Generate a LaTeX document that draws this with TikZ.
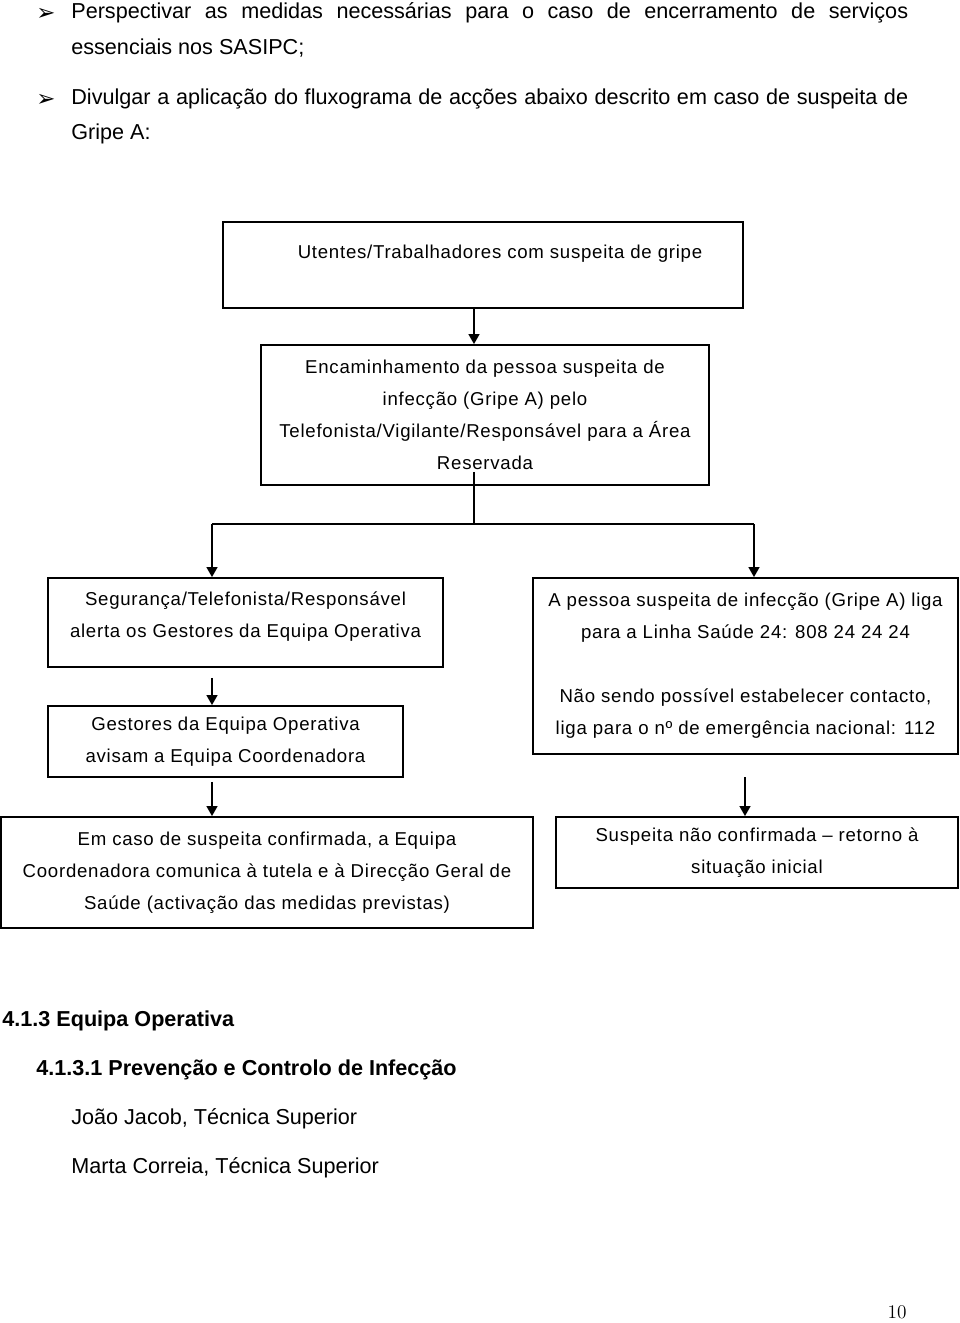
\documentclass[tikz,border=0pt]{standalone}
\usepackage{fontspec}
\usepackage{tikz}
\usetikzlibrary{arrows.meta,calc}
\newfontfamily\arialfont{Liberation Sans}
\newfontfamily\flowfont[LetterSpace=4]{Liberation Sans}
\newfontfamily\dingfont{DejaVu Sans}
\newcommand{\flowtext}{\flowfont\fontsize{10.6}{18.2}\selectfont}
\newcommand{\bodytext}{\arialfont\fontsize{12.3}{19.8}\selectfont}
\newcommand{\bodybold}{\bodytext\bfseries}

\begin{document}
\begin{tikzpicture}[x=0.02cm, y=-0.02cm,
  box/.style={draw, line width=1.1pt, align=center, inner sep=0pt, font=\flowtext},
  link/.style={line width=0.8pt},
  arrow/.style={link, -{Triangle[length=0.2cm,width=0.22cm]}},
  body/.style={anchor=west, inner sep=0pt, font=\bodytext},
  bulletmark/.style={anchor=west, inner sep=0pt, font=\dingfont\fontsize{13}{15}\selectfont}]
  \useasboundingbox (0,0) rectangle (960,1323);
  % text above the chart
  \node[bulletmark] (mark1) at (36,14) {➢};
  \node[body] (item1) at (71,13) {\makebox[16.74cm][s]{Perspectivar as medidas necessárias para o caso de encerramento de serviços}};
  \node[body] (item1b) at (71,48) {essenciais nos SASIPC;};
  \node[bulletmark] (mark2) at (36,100) {➢};
  \node[body] (item2) at (71,99) {\makebox[16.74cm][s]{Divulgar a aplicação do fluxograma de acções abaixo descrito em caso de suspeita de}};
  \node[body] (item2b) at (71,134) {Gripe A:};
  % chart
  \node[box, minimum width=10.4cm, minimum height=1.72cm, text depth=0.52cm] (suspeita) at (483,265) {\hspace*{0.68cm}Utentes/Trabalhadores com suspeita de gripe};
  \node[box, minimum width=8.96cm, minimum height=2.8cm] (encaminha) at (485,415) {Encaminhamento da pessoa suspeita de\\ infecção (Gripe A) pelo\\ Telefonista/Vigilante/Responsável para a Área\\ Reservada};
  \node[box, minimum width=7.9cm, minimum height=1.78cm, text depth=0.32cm] (alerta) at (245.5,622.5) {Segurança/Telefonista/Responsável\\ alerta os Gestores da Equipa Operativa};
  \node[box, minimum width=8.5cm, minimum height=3.52cm] (linha) at (745.5,666) {A pessoa suspeita de infecção (Gripe A) liga\\ para a Linha Saúde 24: 808 24 24 24\\[18.2pt] Não sendo possível estabelecer contacto,\\ liga para o nº de emergência nacional: 112};
  \node[box, minimum width=7.1cm, minimum height=1.42cm] (avisam) at (225.5,741.5) {Gestores da Equipa Operativa\\ avisam a Equipa Coordenadora};
  \node[box, minimum width=10.64cm, minimum height=2.22cm] (confirmada) at (267,872.5) {Em caso de suspeita confirmada, a Equipa\\ Coordenadora comunica à tutela e à Direcção Geral de\\ Saúde (activação das medidas previstas)};
  \node[box, minimum width=8.04cm, minimum height=1.42cm] (retorno) at (757,852.5) {Suspeita não confirmada – retorno à\\ situação inicial};
  \coordinate (split) at (474,524);
  \coordinate (ldrop) at (212,524);
  \coordinate (rdrop) at (754,524);
  \coordinate (rcol) at (745,777);
  \draw[arrow] (suspeita.south -| split) -- (encaminha.north -| split);
  \draw[link] ($(encaminha.south -| split)+(0,-14)$) -- (split);
  \draw[link] (ldrop) -- (rdrop);
  \draw[arrow] (ldrop) -- (ldrop |- alerta.north);
  \draw[arrow] (rdrop) -- (rdrop |- linha.north);
  \draw[arrow] ($(alerta.south -| ldrop)+(0,10)$) -- (ldrop |- avisam.north);
  \draw[arrow] ($(avisam.south -| ldrop)+(0,4)$) -- (ldrop |- confirmada.north);
  \draw[arrow] (rcol) -- (rcol |- retorno.north);
  % text below the chart
  \node[body, font=\bodybold] (sec) at (2,1021) {4.1.3 Equipa Operativa};
  \node[body, font=\bodybold] (subsec) at (36,1070) {4.1.3.1 Prevenção e Controlo de Infecção};
  \node[body] (name1) at (71,1119) {João Jacob, Técnica Superior};
  \node[body] (name2) at (71,1168) {Marta Correia, Técnica Superior};
  \node[inner sep=0pt, font=\fontsize{11}{13}\selectfont] (page) at (897,1312) {10};
\end{tikzpicture}
\end{document}
